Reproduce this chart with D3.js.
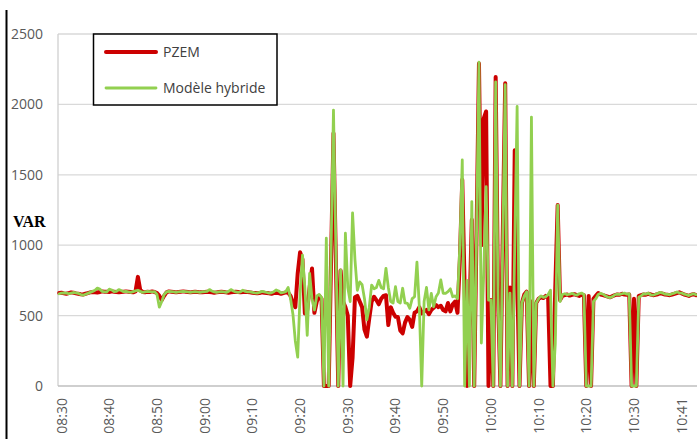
<!DOCTYPE html>
<html>
<head>
<meta charset="utf-8">
<script src="https://cdn.jsdelivr.net/npm/d3@7"></script>
<style>
  html, body { margin: 0; padding: 0; background: #fff; }
  svg { display: block; }
  text { font-family: "Open Sans", "Liberation Sans", sans-serif; }
</style>
</head>
<body>
<svg id="chart" width="697" height="439"></svg>
<script>
// ---- DATA ----
const tickLabels = ["08:30","08:40","08:50","09:00","09:10","09:20","09:30","09:40","09:50","10:00","10:10","10:20","10:30","10:41"];
const tickIndex = [0,20,40,60,80,100,120,140,160,180,200,220,240,260];
const yTicks = [0,500,1000,1500,2000,2500];
const seriesNames = ["PZEM","Modèle hybride"];

const pzem = [
  660,662,658,655,660,665,663,658,655,652,650,655,660,665,668,666,664,668,672,670,
  670,668,672,670,668,665,668,670,672,670,668,665,672,775,680,668,665,670,668,672,
  668,660,640,610,640,665,672,670,668,665,668,670,672,670,668,665,668,670,668,665,
  665,668,670,668,665,662,665,668,670,668,665,662,665,668,670,668,665,668,670,668,
  665,662,660,658,660,665,662,660,658,655,660,662,660,655,660,665,662,640,590,560,
  800,950,900,515,540,700,835,520,600,640,620,0,0,0,900,1795,900,0,820,600,
  560,500,0,200,630,640,600,560,400,350,480,600,634,610,580,620,640,645,433,560,
  520,492,490,395,374,450,490,470,420,520,530,560,516,530,540,510,540,555,575,560,
  570,540,530,590,530,580,600,520,900,1465,700,0,500,1180,0,1100,2290,1000,1900,1950,
  0,610,0,2195,620,0,1100,2150,0,700,0,1675,800,0,590,650,670,0,600,0,
  590,620,630,625,640,630,0,0,700,1285,610,640,645,650,642,648,652,645,640,648,
  645,0,640,0,620,640,660,650,645,640,635,630,638,645,650,648,655,650,648,650,
  0,620,0,640,645,650,648,655,650,645,648,652,660,655,650,648,645,650,655,660,
  665,658,650,645,640,648,652,645
];

const hybride = [
  655,660,662,660,655,660,664,662,658,650,645,652,658,665,672,680,695,688,672,668,
  668,688,682,670,672,685,678,670,672,668,665,670,675,680,672,665,668,672,670,668,
  670,650,560,600,650,668,672,670,668,665,668,670,672,670,668,665,668,670,668,665,
  668,670,672,685,675,668,665,668,670,668,665,672,685,675,668,665,668,680,672,668,
  668,665,662,660,665,672,668,664,660,662,670,682,675,662,665,670,700,620,510,320,
  205,650,930,700,360,800,620,540,640,650,630,0,1050,0,980,1960,980,0,825,0,
  1085,700,600,1230,900,680,740,720,620,470,560,717,690,700,750,700,690,836,700,600,
  590,705,600,590,694,590,587,552,620,634,880,563,0,600,700,540,658,563,634,660,
  753,658,658,670,690,634,640,620,1000,1605,0,750,0,1310,0,1100,2300,305,800,1415,
  610,610,0,2160,620,0,1050,2140,0,660,0,1000,1985,0,590,640,670,0,1910,0,
  590,620,640,630,635,650,680,0,300,1285,600,650,655,648,652,658,650,645,655,660,
  650,0,0,0,600,620,650,658,652,640,632,628,635,648,652,650,655,660,652,655,
  0,0,0,630,640,655,652,660,648,645,652,658,665,660,652,650,648,655,660,668,
  662,660,652,648,642,650,655,648
];

// ---- CHART ----
const svg = d3.select("#chart");
const N = pzem.length;
const plotLeft = 58, plotRight = 697.2, plotTop = 34, plotBottom = 386;

const x = d3.scaleBand().domain(d3.range(N)).range([plotLeft, plotRight]).paddingInner(0).paddingOuter(0);
const xc = i => x(i) + x.bandwidth() / 2;
const y = d3.scaleLinear().domain([0, 2500]).range([plotBottom, plotTop]);

// outer black vertical line (frame edge)
svg.append("line").attr("x1", 6.5).attr("x2", 6.5).attr("y1", 10).attr("y2", 439)
  .attr("stroke", "#000").attr("stroke-width", 2);

// gridlines
svg.append("g").selectAll("line").data(yTicks.filter(d => d > 0)).join("line")
  .attr("x1", plotLeft).attr("x2", 697).attr("y1", d => y(d)).attr("y2", d => y(d))
  .attr("stroke", "#d9d9d9").attr("stroke-width", 1.3);

// y axis line
svg.append("line").attr("x1", plotLeft).attr("x2", plotLeft).attr("y1", plotTop).attr("y2", plotBottom)
  .attr("stroke", "#d0d0d0").attr("stroke-width", 1.3);

// y tick labels via axis
const yAxis = d3.axisLeft(y).tickValues(yTicks).tickSize(0).tickPadding(15).tickFormat(d3.format("d"));
const gy = svg.append("g").attr("transform", `translate(${plotLeft},0)`).call(yAxis);
gy.select(".domain").remove();
gy.selectAll("text").attr("fill", "#595959").style("font-size", "14px")
  .style("font-family", "'Open Sans', sans-serif");

// x axis
const xAxis = d3.axisBottom(x).tickValues(tickIndex).tickSize(0)
  .tickFormat(d => tickLabels[tickIndex.indexOf(d)]);
const gx = svg.append("g").attr("transform", `translate(0,${plotBottom})`).call(xAxis);
gx.select(".domain").attr("stroke", "#bfbfbf").attr("stroke-width", 1.6)
  .attr("d", `M${plotLeft},0H697`);
gx.selectAll("text")
  .attr("fill", "#595959").style("font-size", "14px")
  .style("font-family", "'Open Sans', sans-serif")
  .attr("text-anchor", "end")
  .attr("transform", "rotate(-90)")
  .attr("x", -12).attr("y", 0).attr("dy", "0.38em")
  .attr("dx", 0);
gx.selectAll(".tick").attr("transform", d => `translate(${xc(d) + 2},0)`);

// y title
svg.append("text").attr("x", 13).attr("y", 227).text("VAR")
  .style("font-family", "'Liberation Serif', 'Times New Roman', serif")
  .style("font-weight", "bold").style("font-size", "16px").attr("fill", "#000");

// lines
const line = d3.line().x((d, i) => xc(i)).y(d => y(d)).curve(d3.curveLinear);
svg.append("path").datum(pzem).attr("d", line)
  .attr("fill", "none").attr("stroke", "#cc0000").attr("stroke-width", 4)
  .attr("stroke-linejoin", "round").attr("stroke-linecap", "round");
svg.append("path").datum(hybride).attr("d", line)
  .attr("fill", "none").attr("stroke", "#92d050").attr("stroke-width", 2.8)
  .attr("stroke-linejoin", "round").attr("stroke-linecap", "round");

// legend
const lg = svg.append("g");
lg.append("rect").attr("x", 93.5).attr("y", 34).attr("width", 183.5).attr("height", 71)
  .attr("fill", "#fff").attr("stroke", "#000").attr("stroke-width", 1.5);
const legendColors = ["#cc0000", "#92d050"];
const legendWidths = [4, 2.8];
seriesNames.forEach((name, k) => {
  const ly = 52 + k * 36;
  lg.append("line").attr("x1", 106).attr("x2", 156).attr("y1", ly).attr("y2", ly)
    .attr("stroke", legendColors[k]).attr("stroke-width", legendWidths[k])
    .attr("stroke-linecap", "round");
  lg.append("text").attr("x", 163).attr("y", ly).attr("dy", "0.35em").text(name)
    .attr("fill", "#404040").style("font-size", "14px");
});
</script>
</body>
</html>
